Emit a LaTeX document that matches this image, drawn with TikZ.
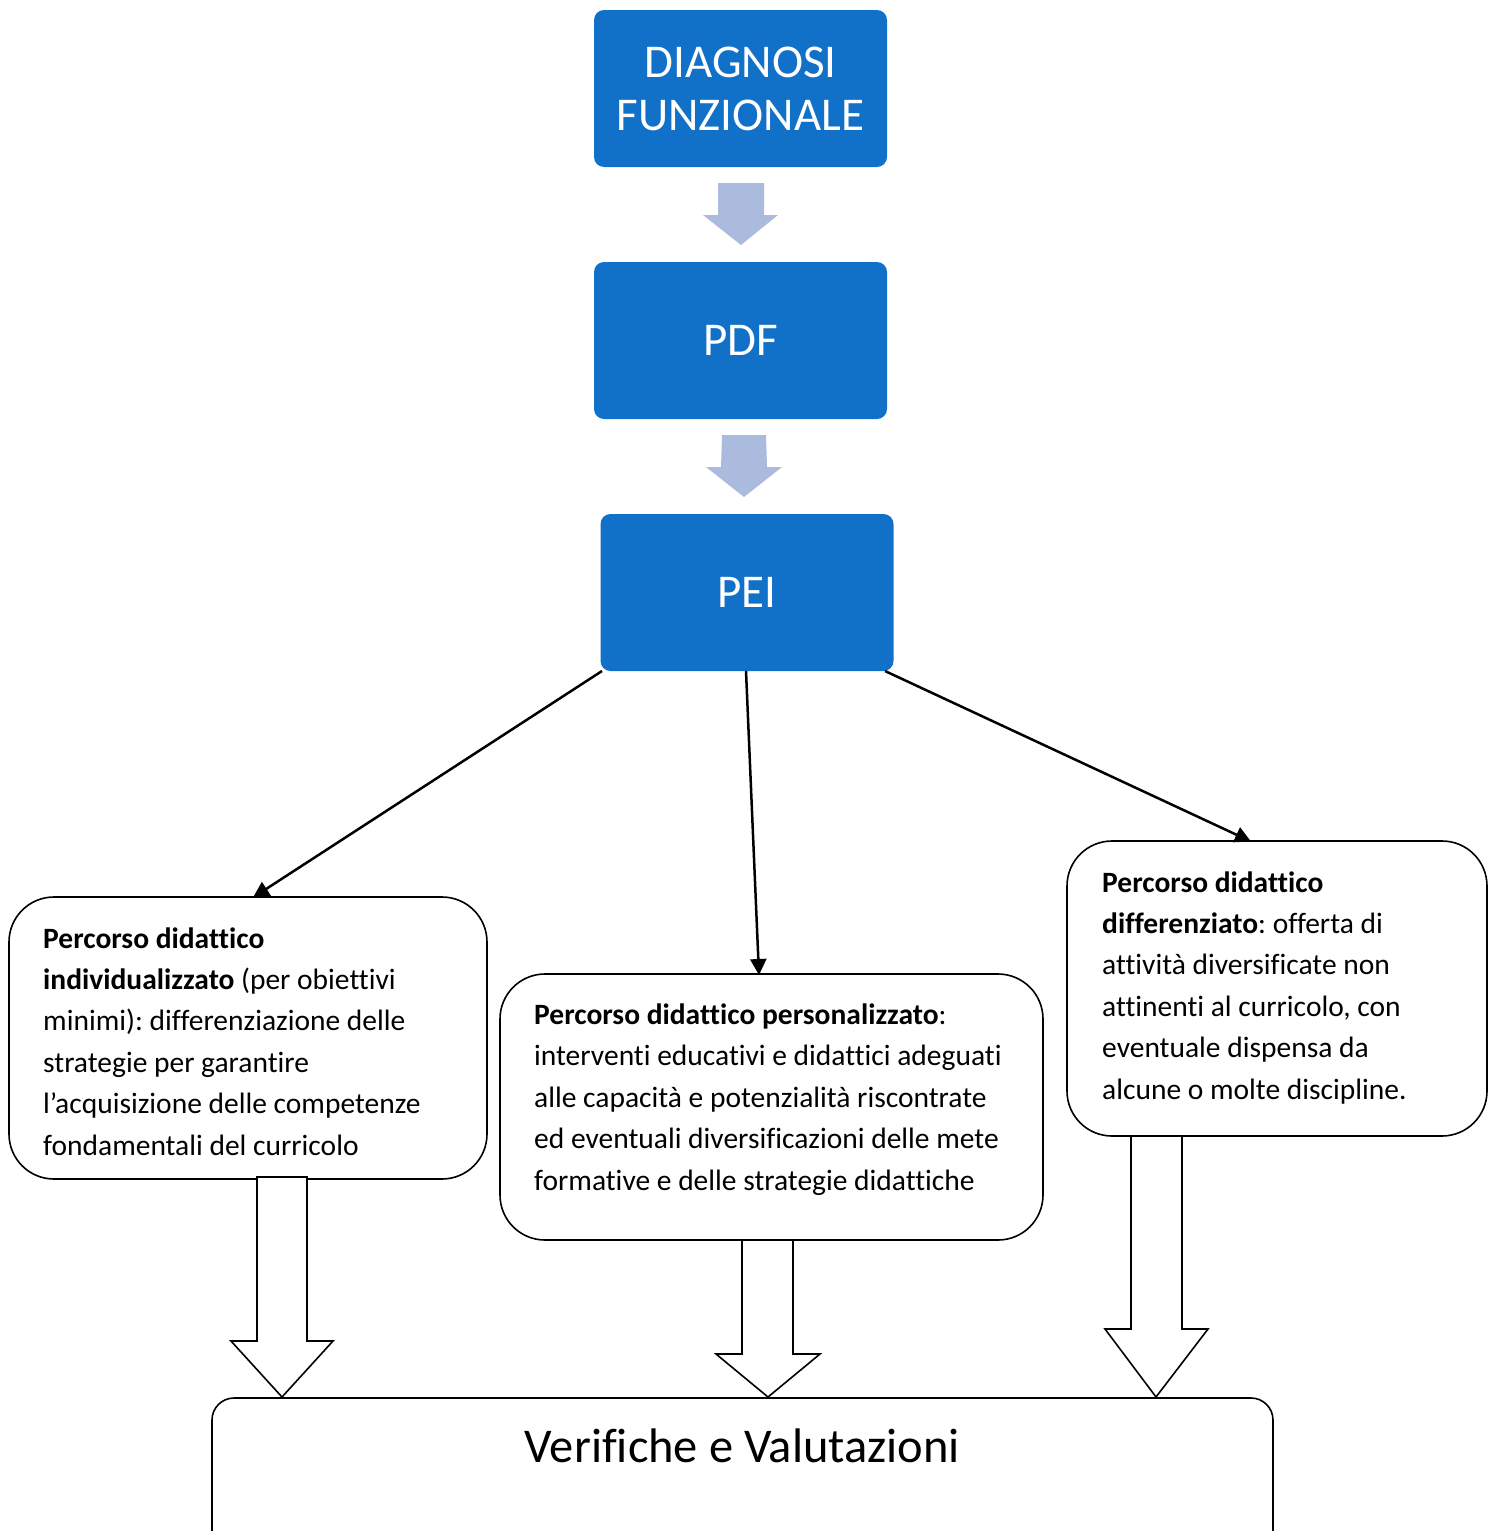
\documentclass[tikz,border=0pt]{standalone}
\usepackage{fontspec}
\setmainfont{Carlito}[Ligatures=NoCommon]
\frenchspacing
\usetikzlibrary{arrows.meta,calc}
\definecolor{boxblue}{RGB}{17,112,200}
\definecolor{arrowgray}{RGB}{171,187,222}
\tikzset{
  bluebox/.style={draw=none,fill=boxblue,rounded corners=10pt,minimum width=293pt,minimum height=157pt,inner sep=0pt,text=white,font=\fontsize{47}{53}\selectfont,align=center},
  whitebox/.style={draw=black,line width=1.6pt,fill=white,rounded corners=45pt,inner sep=0pt},
  boxtext/.style={anchor=base west,inner sep=0pt,align=left,font=\fontsize{29.5}{41.4}\selectfont},
  conn/.style={line width=2.5pt,-{Triangle[length=16pt,width=16pt]}},
  grayarrow/.style={fill=arrowgray,draw=none},
  hollowarrow/.style={fill=white,draw=black,line width=1.6pt,line join=miter},
}
\begin{document}
\begin{tikzpicture}[x=1pt,y=-1pt]
\useasboundingbox (0,0) rectangle (1499,1531);
\clip (0,0) rectangle (1499,1531);
% blue boxes
\node[bluebox] (diag) at (740.5,88.5) {DIAGNOSI\\FUNZIONALE};
\node[bluebox] (pdf) at (740.5,340.5) {PDF};
\node[bluebox] (pei) at (747,592.5) {PEI};
% gray arrows
\path[grayarrow] (718,183) -- (764,183) -- (764,215) -- (778,215) -- (741,245) -- (703,215) -- (718,215) -- cycle;
\path[grayarrow] (722,435) -- (766,435) -- (767,467) -- (782,467) -- (744,497) -- (706,467) -- (721,467) -- cycle;
% white boxes
\node[whitebox,minimum width=478pt,minimum height=282pt] (left) at (248,1038) {};
\node[whitebox,minimum width=543pt,minimum height=266pt] (mid) at (771.5,1107) {};
\node[whitebox,minimum width=420pt,minimum height=295pt] (right) at (1277,988.5) {};
% bottom box
\draw[draw=black,line width=1.6pt,fill=white,rounded corners=22pt] (212,1398) rectangle (1273,1570);
\node[inner sep=0pt,font=\fontsize{48.5}{52}\selectfont,anchor=base] (verif) at (742.5,1462) {Verifiche e Valutazioni};
% texts
\node[boxtext] (lefttext) at (43,1155) {\textbf{Percorso didattico}\\\textbf{individualizzato} (per obiettivi\\minimi): differenziazione delle\\strategie per garantire\\l’acquisizione delle competenze\\fondamentali del curricolo};
\node[boxtext] (midtext) at (534,1190) {\textbf{Percorso didattico personalizzato}:\\interventi educativi e didattici adeguati\\alle capacità e potenzialità riscontrate\\ed eventuali diversificazioni delle mete\\formative e delle strategie didattiche};
\node[boxtext] (righttext) at (1102,1099) {\textbf{Percorso didattico}\\\textbf{differenziato}: offerta di\\attività diversificate non\\attinenti al curricolo, con\\eventuale dispensa da\\alcune o molte discipline.};
% connectors
\coordinate (peiL) at (602,671);
\coordinate (peiM) at (746,671);
\coordinate (peiR) at (885,671);
\draw[conn] (peiL) -- (253,897.5);
\draw[conn] (peiM) -- (759,975);
\draw[conn] (peiR) -- (1251,841.5);
% hollow block arrows
\draw[hollowarrow] (257,1177) -- (307,1177) -- (307,1341) -- (333,1341) -- (282,1397) -- (231,1341) -- (257,1341) -- cycle;
\draw[hollowarrow] (742,1240) -- (793,1240) -- (793,1354) -- (820,1354) -- (768,1397) -- (716,1354) -- (742,1354) -- cycle;
\draw[hollowarrow] (1131,1136) -- (1182,1136) -- (1182,1329) -- (1208,1329) -- (1156,1397) -- (1105,1329) -- (1131,1329) -- cycle;
\end{tikzpicture}
\end{document}
